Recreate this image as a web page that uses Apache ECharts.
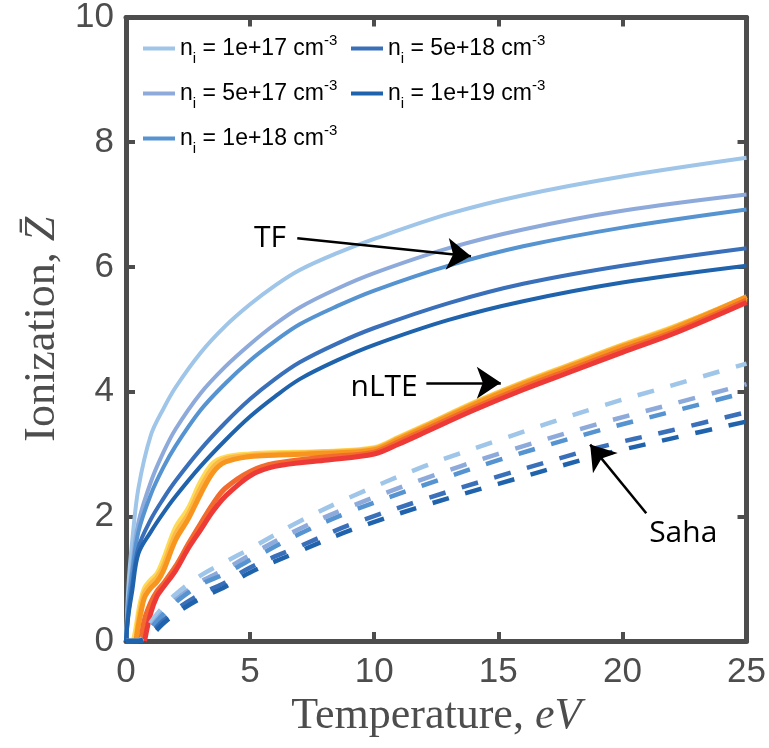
<!DOCTYPE html>
<html>
<head>
<meta charset="utf-8">
<script src="https://cdn.jsdelivr.net/npm/echarts@6/dist/echarts.min.js"></script>
<style>
html,body{margin:0;padding:0;background:#fff;}
#container{width:769px;height:748px;}
</style>
</head>
<body>
<div id="container"></div>
<script>
// densities, shared by TF and Saha
var densities = ['1e+17', '5e+17', '1e+18', '5e+18', '1e+19'];
var blues = ['#9fc5e9', '#8eaadb', '#5593d1', '#3a6fb9', '#1f63ad'];

// Thomas-Fermi
var tfT = [0, 0.1, 0.25, 0.5, 1, 1.5, 2, 3, 4, 5, 6, 7, 8.5, 10, 13, 16, 20, 25];
var tf1 = [0, 0.9, 1.6, 2.45, 3.3, 3.72, 4.07, 4.62, 5.05, 5.4, 5.7, 5.95, 6.22, 6.45, 6.85, 7.15, 7.45, 7.75];
var tf2 = [0, 0.65, 1.2, 1.9, 2.55, 3.02, 3.4, 3.97, 4.4, 4.76, 5.08, 5.35, 5.65, 5.9, 6.3, 6.6, 6.9, 7.16];
var tf3 = [0, 0.6, 1.1, 1.75, 2.35, 2.78, 3.13, 3.7, 4.13, 4.5, 4.81, 5.08, 5.37, 5.62, 6.02, 6.33, 6.63, 6.92];
var tf4 = [0, 0.45, 0.9, 1.5, 1.95, 2.28, 2.57, 3.07, 3.5, 3.88, 4.2, 4.47, 4.77, 5.02, 5.42, 5.73, 6.02, 6.3];
var tf5 = [0, 0.42, 0.8, 1.4, 1.75, 2.05, 2.32, 2.8, 3.22, 3.6, 3.92, 4.2, 4.5, 4.75, 5.15, 5.45, 5.75, 6.02];

// nLTE
var nlteT = [0.3, 0.4, 0.5, 0.6, 0.75, 1, 1.25, 1.5, 2, 2.5, 3, 3.5, 4, 5, 6, 8, 10, 11, 12, 14, 16, 18, 20, 22, 25];
var nl1 = [0, 0.2, 0.45, 0.65, 0.85, 0.98, 1.08, 1.3, 1.82, 2.12, 2.55, 2.85, 2.95, 3.0, 3.02, 3.04, 3.1, 3.27, 3.45, 3.82, 4.15, 4.45, 4.75, 5.03, 5.5];
var nl2 = [null, 0, 0.33, 0.55, 0.78, 0.92, 1.02, 1.2, 1.72, 2.03, 2.45, 2.78, 2.92, 2.98, 3.0, 3.03, 3.09, 3.26, 3.44, 3.81, 4.14, 4.44, 4.74, 5.02, 5.52];
var nl3 = [null, 0, 0.25, 0.45, 0.7, 0.85, 0.95, 1.12, 1.62, 1.95, 2.35, 2.7, 2.87, 2.96, 2.98, 3.01, 3.07, 3.24, 3.42, 3.79, 4.12, 4.42, 4.72, 5.0, 5.52];
var nl4 = [null, null, null, 0, 0.35, 0.62, 0.8, 0.92, 1.2, 1.55, 1.88, 2.2, 2.45, 2.72, 2.85, 2.95, 3.03, 3.2, 3.38, 3.74, 4.07, 4.37, 4.67, 4.95, 5.47];
var nl5 = [null, null, null, null, 0, 0.45, 0.72, 0.86, 1.13, 1.48, 1.78, 2.08, 2.32, 2.65, 2.8, 2.9, 3.0, 3.16, 3.34, 3.7, 4.03, 4.33, 4.63, 4.92, 5.43];
var warm = ['#fedb56', '#fcb848', '#f7951e', '#f26a2d', '#ee3a36'];

// Saha
var sahaT = [0, 0.5, 0.8, 1, 1.5, 2, 3, 4, 5, 7, 9, 12, 15, 19, 22, 25];
var sa1 = [0, 0.01, 0.12, 0.3, 0.55, 0.75, 1.05, 1.27, 1.48, 1.92, 2.3, 2.8, 3.22, 3.75, 4.1, 4.45];
var sa2 = [0, 0, 0.08, 0.22, 0.47, 0.66, 0.95, 1.15, 1.38, 1.8, 2.15, 2.6, 3.0, 3.48, 3.8, 4.12];
var sa3 = [0, 0, 0.07, 0.2, 0.43, 0.62, 0.9, 1.08, 1.3, 1.72, 2.07, 2.5, 2.9, 3.37, 3.68, 3.99];
var sa4 = [0, 0, 0.04, 0.12, 0.33, 0.5, 0.75, 0.94, 1.18, 1.52, 1.86, 2.27, 2.64, 3.1, 3.38, 3.67];
var sa5 = [0, 0, 0.03, 0.08, 0.28, 0.44, 0.68, 0.87, 1.1, 1.44, 1.77, 2.17, 2.52, 2.97, 3.25, 3.52];

// annotations (data coordinates)
var arrows = [
	[[6.9, 6.46], [13.9, 6.17]],
	[[12.1, 4.14], [15.1, 4.14]],
	[[20.96, 2.05], [18.7, 3.15]]
];
var notes = [['TF', 5.8, 6.46], ['nLTE', 10.4, 4.06], ['Saha', 22.45, 1.72]];

var axisColor = '#4d4d4d';

function pairs(xs, ys){
	var out = [];
	for (var i = 0; i < xs.length; i++) {
		out.push([xs[i], ys[i]]);
	}
	return out;
}

var tfSets = [tf1, tf2, tf3, tf4, tf5];
var nlSets = [nl1, nl2, nl3, nl4, nl5];
var saSets = [sa1, sa2, sa3, sa4, sa5];
var series = [];
var names = [];
for (var i = 0; i < 5; i++) {
	var nm = 'ni = ' + densities[i];
	names.push(nm);
	series.push({
		name: nm, type: 'line', smooth: 0.35, showSymbol: false,
		data: pairs(tfT, tfSets[i]),
		itemStyle: {color: blues[i]},
		lineStyle: {color: blues[i], width: 4}
	});
}
for (var i = 0; i < 5; i++) {
	series.push({
		name: 'nlte' + i, type: 'line', smooth: 0.35, showSymbol: false, connectNulls: false,
		data: pairs(nlteT, nlSets[i]),
		lineStyle: {color: warm[i], width: 5}
	});
}
for (var i = 0; i < 5; i++) {
	series.push({
		name: 'saha' + i, type: 'line', smooth: 0.35, showSymbol: false,
		data: pairs(sahaT, saSets[i]),
		lineStyle: {color: blues[i], width: 4.5, type: [17, 17], cap: 'butt'}
	});
}
// arrows and labels
series.push({
	name: 'notes', type: 'line', data: [], silent: true,
	markLine: {
		silent: true, animation: false,
		symbol: ['none', 'arrow'], symbolSize: 24,
		label: {show: false},
		lineStyle: {color: '#000', width: 2.5, type: 'solid'},
		itemStyle: {color: '#000'},
		data: arrows.map(function (a){
			return [{coord: a[0]}, {coord: a[1]}];
		})
	},
	markPoint: {
		silent: true, animation: false,
		symbol: 'rect', symbolSize: 1,
		itemStyle: {color: 'rgba(0,0,0,0)'},
		label: {show: true, position: 'inside', color: '#000', fontSize: 30, fontFamily: 'Open Sans',
			formatter: function (p){ return p.name; }},
		data: notes.map(function (n){
			return {name: n[0], coord: [n[1], n[2]]};
		})
	}
});

var legendText = {
	color: '#000',
	rich: {
		n: {fontSize: 23, fontFamily: 'Liberation Sans', color: '#000'},
		s: {fontSize: 15, fontFamily: 'Liberation Sans', color: '#000', padding: [20, 0, 0, 0]},
		p: {fontSize: 15, fontFamily: 'Liberation Sans', color: '#000', padding: [0, 0, 16, 0]}
	}
};
function legendFmt(name){
	var d = name.split('= ')[1];
	return '{n|n}{s|i}{n| = ' + d + ' cm}{p|-3}';
}

var baseAxis = {
	axisLine: {onZero: false, lineStyle: {color: axisColor, width: 5}},
	axisTick: {inside: true, length: 9, lineStyle: {color: axisColor, width: 4}},
	splitLine: {show: false}
};
var labelStyle = {color: axisColor, fontSize: 35, fontFamily: 'Liberation Sans'};

var option = {
	animation: false,
	backgroundColor: '#fff',
	grid: {left: 126, right: 22, top: 17, bottom: 107},
	legend: [{
		data: names.slice(0, 3), orient: 'vertical', left: 138, top: 28,
		itemWidth: 32, itemHeight: 4, itemGap: 12, icon: 'rect',
		textStyle: legendText, formatter: legendFmt
	}, {
		data: names.slice(3), orient: 'vertical', left: 346, top: 28,
		itemWidth: 32, itemHeight: 4, itemGap: 12, icon: 'rect',
		textStyle: legendText, formatter: legendFmt
	}],
	xAxis: [
		Object.assign({}, baseAxis, {
			type: 'value', min: 0, max: 25, interval: 5, position: 'bottom',
			axisLabel: Object.assign({margin: 14}, labelStyle),
			name: '{r|Temperature, }{i|eV}', nameLocation: 'middle', nameGap: 53,
			nameTextStyle: {rich: {
				r: {fontSize: 44, fontFamily: 'Liberation Serif', color: axisColor},
				i: {fontSize: 44, fontFamily: 'Liberation Serif', fontStyle: 'italic', color: axisColor}
			}}
		}),
		Object.assign({}, baseAxis, {
			type: 'value', min: 0, max: 25, interval: 5, position: 'top',
			axisLabel: {show: false}
		})
	],
	yAxis: [
		Object.assign({}, baseAxis, {
			type: 'value', min: 0, max: 10, interval: 2, position: 'left',
			axisLabel: Object.assign({margin: 12}, labelStyle),
			name: '{r|Ionization, }{i|Z\u0304}', nameLocation: 'middle', nameGap: 58, nameRotate: 90,
			nameTextStyle: {rich: {
				r: {fontSize: 44, fontFamily: 'Liberation Serif', color: axisColor},
				i: {fontSize: 44, fontFamily: 'Liberation Serif', fontStyle: 'italic', color: axisColor}
			}}
		}),
		Object.assign({}, baseAxis, {
			type: 'value', min: 0, max: 10, interval: 2, position: 'right',
			axisLabel: {show: false}
		})
	],
	series: series
};

var myChart = echarts.init(document.getElementById('container'));
myChart.setOption(option, true);
</script>
</body>
</html>
